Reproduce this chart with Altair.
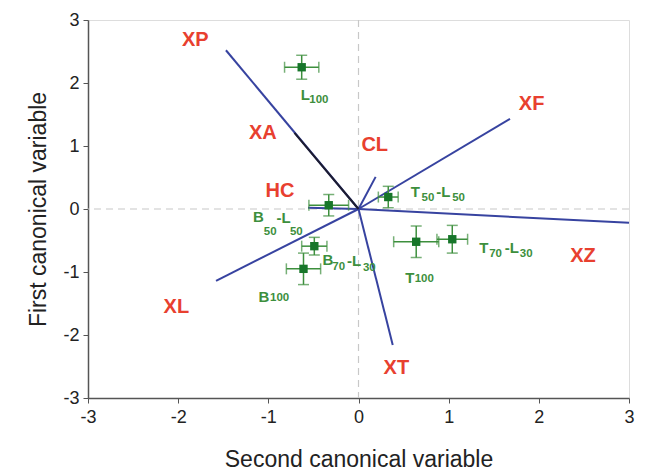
import altair as alt
import pandas as pd

# ---- biplot vectors (end points) ----
vec_names = ["XP", "XF", "CL", "XZ", "XT", "XL", "HC", "XA"]
vec_x = [-1.47, 1.68, 0.19, 3.00, 0.38, -1.58, -0.56, -0.71]
vec_y = [2.52, 1.43, 0.51, -0.22, -2.16, -1.14, 0.02, 1.21]
vec_lab_x = [-1.81, 1.92, 0.18, 2.49, 0.42, -2.02, -0.87, -1.06]
vec_lab_y = [2.68, 1.67, 1.02, -0.75, -2.52, -1.56, 0.29, 1.21]

# ---- group centroids with errors ----
grp = ["L100", "T50-L50", "B50-L50", "B70-L30", "B100", "T100", "T70-L30"]
gx = [-0.63, 0.33, -0.33, -0.49, -0.61, 0.64, 1.04]
gy = [2.25, 0.19, 0.06, -0.59, -0.95, -0.52, -0.48]
ex = [0.19, 0.11, 0.22, 0.14, 0.19, 0.25, 0.17]
ey = [0.19, 0.17, 0.17, 0.14, 0.25, 0.25, 0.22]

# ---- green group labels (main letters and subscripts) ----
main_txt = ["L", "T", "-L", "T", "-L", "T", "B", "-L", "B", "B", "-L"]
main_x = [-0.59, 0.63, 0.94, 1.39, 1.70, 0.57, -0.34, -0.05, -1.05, -1.11, -0.83]
main_y = [1.81, 0.27, 0.27, -0.62, -0.62, -1.10, -0.81, -0.83, -1.40, -0.13, -0.14]
sub_txt = ["100", "50", "50", "70", "30", "100", "70", "30", "100", "50", "50"]
sub_x = [-0.44, 0.77, 1.11, 1.52, 1.86, 0.73, -0.22, 0.12, -0.875, -0.98, -0.69]
sub_y = [1.73, 0.17, 0.17, -0.71, -0.71, -1.11, -0.92, -0.94, -1.41, -0.37, -0.37]

ticks = [-3, -2, -1, 0, 1, 2, 3]

vec = pd.DataFrame({"name": vec_names, "vx": vec_x, "vy": vec_y,
                    "lx": vec_lab_x, "ly": vec_lab_y})
vec["x0"] = 0.0
vec["y0"] = 0.0
pts = pd.DataFrame({"grp": grp, "x": gx, "y": gy, "ex": ex, "ey": ey})
pts["xl"] = pts.x - pts.ex
pts["xh"] = pts.x + pts.ex
pts["yl"] = pts.y - pts.ey
pts["yh"] = pts.y + pts.ey
mainlab = pd.DataFrame({"t": main_txt, "x": main_x, "y": main_y})
sublab = pd.DataFrame({"t": sub_txt, "x": sub_x, "y": sub_y})
zero = pd.DataFrame({"z": [0.0]})

FONT = "Liberation Sans"
xs = alt.Scale(domain=[-3, 3], nice=False, zero=False)
ys = alt.Scale(domain=[-3, 3], nice=False, zero=False)
common = dict(values=ticks, grid=False, labelExpr="'' + datum.value",
              labelFontSize=18, titleFontSize=23, titleFontWeight="normal",
              labelFont=FONT, titleFont=FONT, labelColor="#222", titleColor="#222",
              tickSize=5, tickColor="#555", domainColor="#555", domainWidth=1.5,
              labelFlush=False)
xax = alt.Axis(title="Second canonical variable", labelPadding=5, titlePadding=22, **common)
yax = alt.Axis(title="First canonical variable", labelPadding=4, titlePadding=12, **common)

base_x = alt.X("x:Q", scale=xs, axis=xax)
base_y = alt.Y("y:Q", scale=ys, axis=yax)

vline = alt.Chart(zero).mark_rule(color="#c8c8c8", strokeDash=[7, 5], strokeWidth=1.2).encode(
    x=alt.X("z:Q", scale=xs, axis=xax))
hline = alt.Chart(zero).mark_rule(color="#c8c8c8", strokeDash=[7, 5], strokeWidth=1.2).encode(
    y=alt.Y("z:Q", scale=ys, axis=yax))

vectors = alt.Chart(vec).mark_rule(strokeWidth=2).encode(
    x=alt.X("x0:Q", scale=xs, axis=xax), y=alt.Y("y0:Q", scale=ys, axis=yax),
    x2="vx:Q", y2="vy:Q",
    color=alt.condition(alt.datum.name == "XA", alt.value("#1c1c30"), alt.value("#3743a0")),
    strokeWidth=alt.condition(alt.datum.name == "HC", alt.value(3), alt.value(2.2)),
)

vlabels = alt.Chart(vec).mark_text(fontSize=20, fontWeight="bold", font=FONT,
                                   color="#e8402f").encode(
    x=alt.X("lx:Q", scale=xs, axis=xax), y=alt.Y("ly:Q", scale=ys, axis=yax), text="name:N")

GREEN = "#3d8f3d"
hbar = alt.Chart(pts).mark_rule(color=GREEN, strokeWidth=1.5).encode(
    x=alt.X("xl:Q", scale=xs, axis=xax), x2="xh:Q", y=alt.Y("y:Q", scale=ys, axis=yax))
vbar = alt.Chart(pts).mark_rule(color=GREEN, strokeWidth=1.5).encode(
    y=alt.Y("yl:Q", scale=ys, axis=yax), y2="yh:Q", x=alt.X("x:Q", scale=xs, axis=xax))
capl = alt.Chart(pts).mark_tick(color=GREEN, thickness=1.5, size=11, orient="vertical").encode(
    x=alt.X("xl:Q", scale=xs, axis=xax), y=alt.Y("y:Q", scale=ys, axis=yax))
caph = alt.Chart(pts).mark_tick(color=GREEN, thickness=1.5, size=11, orient="vertical").encode(
    x=alt.X("xh:Q", scale=xs, axis=xax), y=alt.Y("y:Q", scale=ys, axis=yax))
capb = alt.Chart(pts).mark_tick(color=GREEN, thickness=1.5, size=11, orient="horizontal").encode(
    x=alt.X("x:Q", scale=xs, axis=xax), y=alt.Y("yl:Q", scale=ys, axis=yax))
capt = alt.Chart(pts).mark_tick(color=GREEN, thickness=1.5, size=11, orient="horizontal").encode(
    x=alt.X("x:Q", scale=xs, axis=xax), y=alt.Y("yh:Q", scale=ys, axis=yax))
squares = alt.Chart(pts).mark_square(size=70, color="#17762a", opacity=1).encode(
    x=base_x, y=base_y)

mtext = alt.Chart(mainlab).mark_text(fontSize=15, fontWeight="bold", font=FONT,
                                     color=GREEN).encode(x=base_x, y=base_y, text="t:N")
stext = alt.Chart(sublab).mark_text(fontSize=11.5, fontWeight="bold", font=FONT,
                                    color=GREEN).encode(x=base_x, y=base_y, text="t:N")

chart = alt.layer(vline, hline, vectors, vlabels, hbar, vbar, capl, caph, capb, capt,
                  squares, mtext, stext).properties(
    width=541, height=378,
    padding={"left": 88, "top": 20, "right": 17, "bottom": 77},
    autosize="none",
).configure_view(stroke="#555", strokeWidth=1.5).configure(background="white")

chart.save("out.html", embed_options={"renderer": "svg", "actions": False})
